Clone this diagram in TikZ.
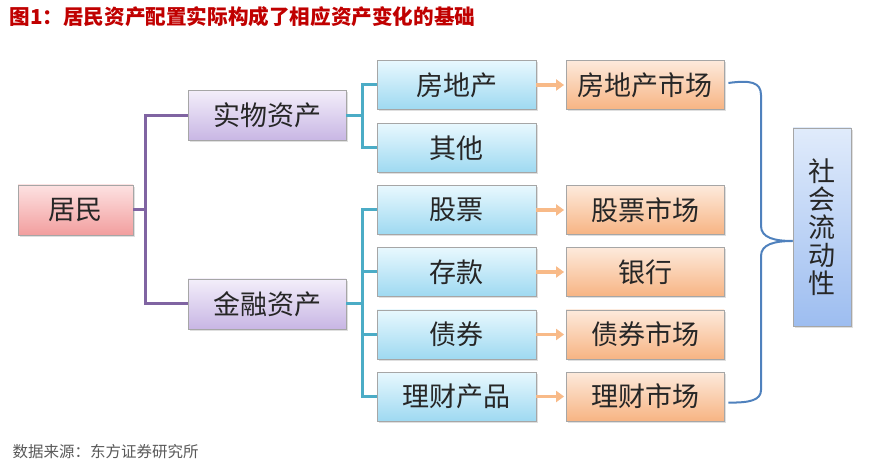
\documentclass[tikz,border=0pt]{standalone}
\usepackage{fontspec}
\setmainfont{Noto Sans CJK SC}
\usetikzlibrary{arrows.meta,shadows,calc}
\definecolor{pinkT}{HTML}{FDE2E2}
\definecolor{pinkB}{HTML}{F29E9E}
\definecolor{lavT}{HTML}{F3EEFA}
\definecolor{lavB}{HTML}{C8B6E4}
\definecolor{cyanT}{HTML}{E8F8FE}
\definecolor{cyanB}{HTML}{9ED9F1}
\definecolor{orT}{HTML}{FDEADC}
\definecolor{orB}{HTML}{F7B483}
\definecolor{blT}{HTML}{E0EBFB}
\definecolor{blB}{HTML}{9DBDF0}
\definecolor{purLine}{HTML}{8064A2}
\definecolor{tealLine}{HTML}{4BACC6}
\definecolor{arrLine}{HTML}{F8BA88}
\definecolor{braceLine}{HTML}{4F81BD}
\definecolor{titleRed}{HTML}{C00000}
\definecolor{srcGray}{HTML}{595959}
\tikzset{
  boxbase/.style={draw=black!35, line width=0.8pt, rectangle, inner sep=0pt,
    font=\fontsize{27}{28}\selectfont, text=black!85,
    drop shadow={opacity=0.25, shadow xshift=2pt, shadow yshift=-2pt}},
  pinkbox/.style={boxbase, top color=pinkT, bottom color=pinkB, minimum width=115pt, minimum height=50pt},
  lavbox/.style={boxbase, top color=lavT, bottom color=lavB, minimum width=158pt, minimum height=50pt},
  cyanbox/.style={boxbase, top color=cyanT, bottom color=cyanB, minimum width=159pt, minimum height=49pt},
  orbox/.style={boxbase, top color=orT, bottom color=orB, minimum width=158pt, minimum height=49pt},
  bluebox/.style={boxbase, top color=blT, bottom color=blB, minimum width=58pt, minimum height=198pt},
  purl/.style={draw=purLine, line width=3pt},
  teall/.style={draw=tealLine, line width=3pt},
  arrl/.style={draw=arrLine, line width=3.5pt, -{Triangle[length=8pt,width=11pt]}, shorten >=1.5pt},
  bracel/.style={draw=braceLine, line width=2pt}
}
\begin{document}
\begin{tikzpicture}[x=1pt,y=1pt]
\useasboundingbox (0,0) rectangle (872,466);
\node[anchor=west, text=titleRed, font=\fontsize{20.6}{22}\selectfont\bfseries] (title) at (6,449) {图1：居民资产配置实际构成了相应资产变化的基础};
\node[anchor=west, text=srcGray, font=\fontsize{15.5}{17}\selectfont] (src) at (9,14) {数据来源：东方证券研究所};

\node[pinkbox] (jm) at (75.5,256) {居民};
\node[lavbox] (sw) at (267,350.5) {实物资产};
\node[lavbox] (jr) at (267,162) {金融资产};

\node[cyanbox] (fdc) at (456.5,381) {房地产};
\node[cyanbox] (qt) at (456.5,318) {其他};
\node[cyanbox] (gp) at (456.5,256) {股票};
\node[cyanbox] (ck) at (456.5,194) {存款};
\node[cyanbox] (zq) at (456.5,131.5) {债券};
\node[cyanbox] (lc) at (456.5,69.5) {理财产品};

\node[orbox] (fdcsc) at (645,381) {房地产市场};
\node[orbox] (gpsc) at (645,256) {股票市场};
\node[orbox] (yh) at (645,194) {银行};
\node[orbox] (zqsc) at (645,131.5) {债券市场};
\node[orbox] (lcsc) at (645,69.5) {理财市场};

\node[bluebox, align=center, font=\fontsize{27}{28}\selectfont] (sh) at (822,239) {社\\会\\流\\动\\性};

% purple connectors
\draw[purl] (jm.east) -- ++(12,0) coordinate (pv);
\draw[purl] (sw.west) -| (pv) |- (jr.west);

% teal connectors
\draw[teall] (sw.east) -- ++(16,0) coordinate (tv1);
\draw[teall] (fdc.west) -| (tv1) |- (qt.west);
\draw[teall] (jr.east) -- ++(16,0) coordinate (tv2);
\draw[teall] (gp.west) -| (tv2) |- (lc.west);
\draw[teall] (ck.west) -| (tv2);
\draw[teall] (zq.west) -| (tv2);

% arrows
\draw[arrl] (fdc.east) -- (fdcsc.west);
\draw[arrl] (gp.east) -- (gpsc.west);
\draw[arrl] (ck.east) -- (yh.west);
\draw[arrl] (zq.east) -- (zqsc.west);
\draw[arrl] (lc.east) -- (lcsc.west);

% brace
\coordinate (b1) at ($(fdcsc.east)+(4,2)$);
\coordinate (b2) at ($(lcsc.east)+(4,-6)$);
\coordinate (tip) at ($(sh.west)+(0,-14)$);
\draw[bracel] (b1) .. controls (750,386) and (761,384) .. (761,371) -- (761,240) .. controls (761,228) and (775,225) .. (tip);
\draw[bracel] (tip) .. controls (775,225) and (761,222) .. (761,210) -- (761,76) .. controls (761,66) and (750,63) .. (b2);
\end{tikzpicture}
\end{document}
